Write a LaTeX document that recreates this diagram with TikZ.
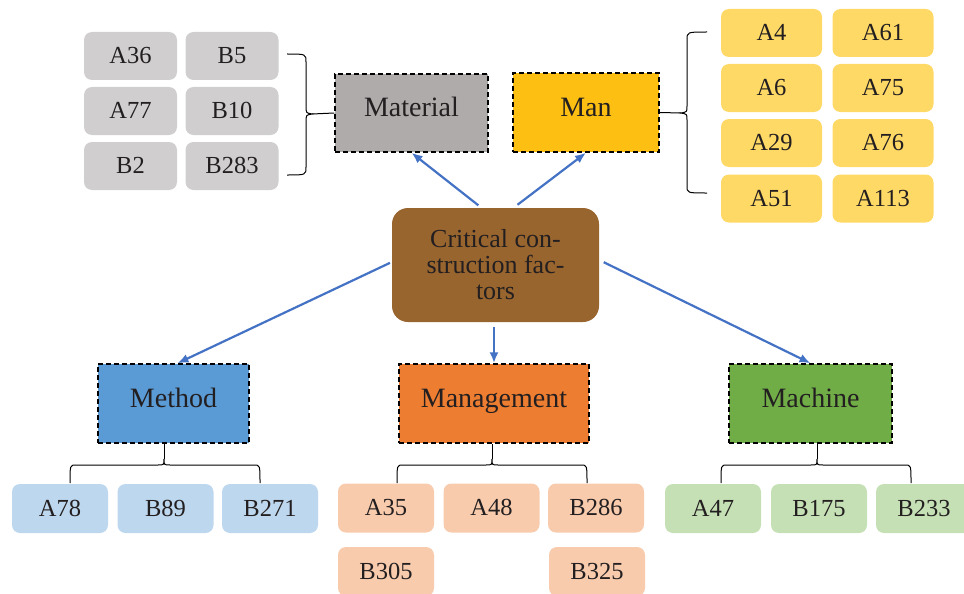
\documentclass[tikz,border=0pt]{standalone}
\usepackage{fontspec}
\setmainfont{Liberation Serif}
\newfontfamily\tnr{Liberation Serif}
\usetikzlibrary{arrows.meta,calc}
\definecolor{txt}{HTML}{231F20}
\definecolor{greyitem}{HTML}{D0CECE}
\definecolor{matc}{HTML}{AFABAB}
\definecolor{manc}{HTML}{FCBF12}
\definecolor{manitem}{HTML}{FFD966}
\definecolor{ctrc}{HTML}{99652F}
\definecolor{methc}{HTML}{5B9BD5}
\definecolor{methitem}{HTML}{BDD7EE}
\definecolor{mgmtc}{HTML}{ED7D31}
\definecolor{mgmtitem}{HTML}{F8CBAD}
\definecolor{machc}{HTML}{70AD47}
\definecolor{machitem}{HTML}{C5E0B4}
\definecolor{arrc}{HTML}{4472C4}
\tikzset{
  x=1pt,y=-1pt,
  item/.style={rounded corners=8pt,inner sep=0pt,text=txt,font=\tnr\fontsize{24.5}{26}\selectfont,
    text height=16pt,text depth=1pt,minimum height=48pt},
  cat/.style={draw=black,dashed,dash pattern=on 5pt off 3pt,line width=1.5pt,inner sep=0pt,text=txt,
    font=\tnr\fontsize{28}{30}\selectfont,text height=16pt,text depth=8pt,minimum height=79pt},
  arr/.style={draw=arrc,line width=2.2pt,-{Latex[length=11pt,width=9pt]}},
  brc/.style={draw=black,line width=1pt},
}
\begin{document}
\begin{tikzpicture}
\useasboundingbox (0,0) rectangle (964,594);
\clip (0,0) rectangle (964,594);
% Material items
\foreach \n/\t/\cx/\cy in {g1/A36/130.5/56, g2/B5/232/56, g3/A77/130.5/111, g4/B10/232/111, g5/B2/130.5/166, g6/B283/232/166}
  \node[item,fill=greyitem,minimum width=93pt] (\n) at (\cx,\cy) {\t};
% Man items
\foreach \n/\t/\cx/\cy in {m1/A4/771.5/33, m2/A61/883/33, m3/A6/771.5/88, m4/A75/883/88, m5/A29/771.5/143, m6/A76/883/143, m7/A51/771.5/198.5, m8/A113/883/198.5}
  \node[item,fill=manitem,minimum width=101pt] (\n) at (\cx,\cy) {\t};
% bottom items
\foreach \n/\t/\cx/\cy in {d1/A78/60/508.5, d2/B89/165.5/508.5, d3/B271/270/508.5}
  \node[item,fill=methitem,minimum width=96pt,minimum height=49pt] (\n) at (\cx,\cy) {\t};
\foreach \n/\t/\cx/\cy in {e1/A35/386/508, e2/A48/491.5/508, e3/B286/596/508, e4/B305/386/571.5, e5/B325/597/571.5}
  \node[item,fill=mgmtitem,minimum width=96pt,minimum height=49pt] (\n) at (\cx,\cy) {\t};
\foreach \n/\t/\cx/\cy in {f1/A47/713/508.5, f2/B175/819/508.5, f3/B233/924/508.5}
  \node[item,fill=machitem,minimum width=96pt,minimum height=49pt] (\n) at (\cx,\cy) {\t};
% categories
\node[cat,fill=matc,minimum width=153pt,minimum height=78pt] (mat) at (411.5,113) {Material};
\node[cat,fill=manc,minimum width=146pt] (man) at (586,112.5) {Man};
\node[cat,fill=methc,minimum width=151pt] (meth) at (173.5,403.5) {Method};
\node[cat,fill=mgmtc,minimum width=190pt] (mgmt) at (494,403.5) {Management};
\node[cat,fill=machc,minimum width=163pt] (mach) at (810.5,403.5) {Machine};
% center
\node[fill=ctrc,rounded corners=16pt,minimum width=207pt,minimum height=114pt,inner sep=0pt,text=txt,
  align=center,font=\tnr\fontsize{26}{26}\selectfont] (ctr) at (495.5,265) {Critical con-\\struction fac-\\tors};
% arrows
\draw[arr,shorten <=4pt] ([xshift=-14pt]ctr.north) -- (mat.south);
\draw[arr,shorten <=5pt] ([xshift=18pt]ctr.north) -- (man.south);
\draw[arr,shorten <=2pt] ([yshift=3pt]ctr.west) -- ([xshift=4pt]meth.north);
\draw[arr,shorten <=5pt] (ctr.south -| mgmt.north) -- (mgmt.north);
\draw[arr,shorten <=5pt] ([yshift=5pt]ctr.east) -- (mach.north);
% braces
% Material: tip right
\draw[brc] (287,54) .. controls (306,54) .. (306,62) -- (306,106) .. controls (306,113) .. (312,114)
  .. controls (306,115) .. (306,122) -- (306,167) .. controls (306,175) .. (287,175);
\draw[brc] (312,114) -- (mat.west);
% Man: tip left
\draw[brc] (707,32) .. controls (687,32) .. (687,40) -- (687,106) .. controls (687,112) .. (681,113)
  .. controls (687,114) .. (687,120) -- (687,186) .. controls (687,193) .. (707,193);
\draw[brc] (681,113) -- (man.east);
% bottom braces
\foreach \l/\tip/\r/\nd in {70/164/260/meth, 397/492/587/mgmt, 721/817/911/mach}{
  \draw[brc] (\l,483) .. controls (\l,465) .. (\l+6,465) -- (\tip-6,465) .. controls (\tip,465) .. (\tip,459)
    .. controls (\tip,465) .. (\tip+6,465) -- (\r-6,465) .. controls (\r,465) .. (\r,483);
  \draw[brc] (\tip,459) -- (\nd.south -| \tip,459);
}
\end{tikzpicture}
\end{document}
